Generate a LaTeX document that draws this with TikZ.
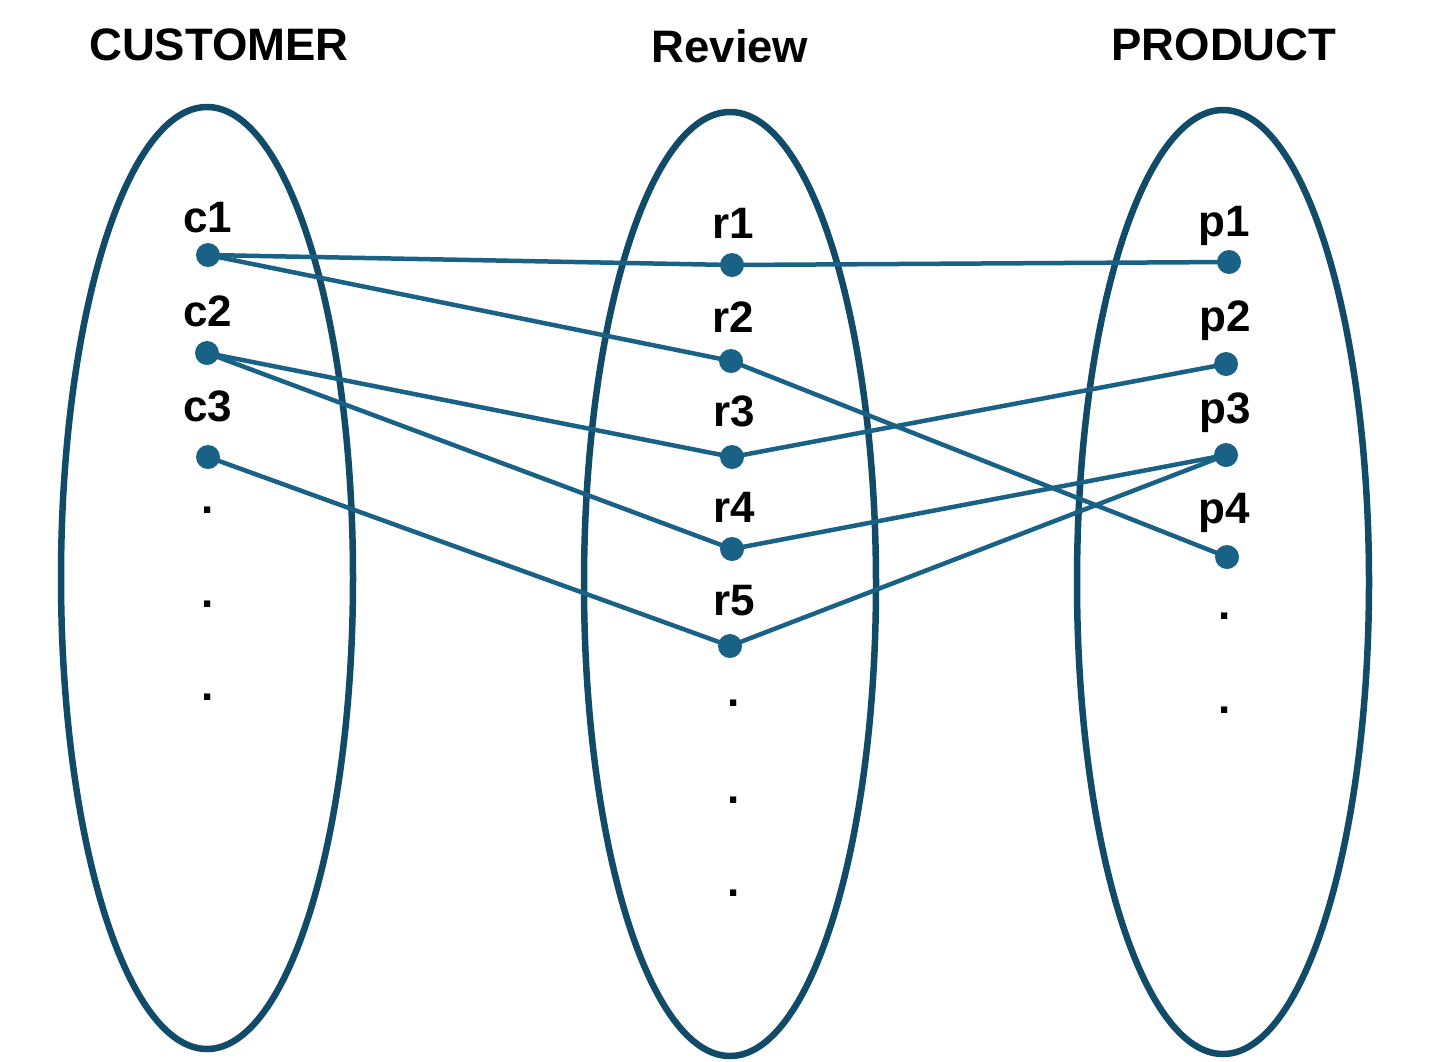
\documentclass[tikz,border=0pt]{standalone}
\usepackage{fontspec}
\setmainfont{Liberation Sans}
\definecolor{ellc}{HTML}{114B67}
\definecolor{linc}{HTML}{1A6186}
\tikzset{
  setell/.style={draw=ellc, line width=6.5pt},
  conn/.style={draw=linc, line width=4.5pt},
  pt/.style={circle, fill=linc, inner sep=0pt, minimum size=24pt},
  lbl/.style={font=\fontsize{44}{50}\selectfont\bfseries, anchor=base, inner sep=0pt},
  ttl/.style={font=\fontsize{45.5}{52}\selectfont\bfseries, anchor=base, inner sep=0pt},
}
\begin{document}
\begin{tikzpicture}[x=1pt,y=-1pt]
\useasboundingbox (0,0) rectangle (1443,1061);
% sets
\draw[setell] (207,578) ellipse [x radius=146, y radius=471];
\draw[setell] (730,584) ellipse [x radius=146, y radius=472];
\draw[setell] (1223,582) ellipse [x radius=146, y radius=472];
% titles
\node[ttl] (tc) at (219,60) {CUSTOMER};
\node[ttl] (tr) at (730,62) {Review};
\node[ttl] (tp) at (1224,60) {PRODUCT};
% labels
\node[lbl] (c1l) at (208,232) {c1};
\node[lbl] (c2l) at (208,326) {c2};
\node[lbl] (c3l) at (208,421) {c3};
\node[lbl] (r1l) at (733,238) {r1};
\node[lbl] (r2l) at (733,332) {r2};
\node[lbl] (r3l) at (734,426) {r3};
\node[lbl] (r4l) at (734,522) {r4};
\node[lbl] (r5l) at (734,615) {r5};
\node[lbl] (p1l) at (1224,236) {p1};
\node[lbl] (p2l) at (1225,331) {p2};
\node[lbl] (p3l) at (1225,423) {p3};
\node[lbl] (p4l) at (1224,523) {p4};
% ellipsis dots
\node[lbl] (cd1) at (208,513) {.};
\node[lbl] (cd2) at (208,607) {.};
\node[lbl] (cd3) at (208,700) {.};
\node[lbl] (rd1) at (734,706) {.};
\node[lbl] (rd2) at (734,803) {.};
\node[lbl] (rd3) at (734,896) {.};
\node[lbl] (pd1) at (1225,619) {.};
\node[lbl] (pd2) at (1225,713) {.};
% points
\node[pt] (c1) at (208,255) {};
\node[pt] (c2) at (207,353) {};
\node[pt] (c3) at (208,457) {};
\node[pt] (r1) at (732,265) {};
\node[pt] (r2) at (731,361) {};
\node[pt] (r3) at (732,457) {};
\node[pt] (r4) at (732,549) {};
\node[pt] (r5) at (730,646) {};
\node[pt] (p1) at (1229,262) {};
\node[pt] (p2) at (1226,364) {};
\node[pt] (p3) at (1226,455) {};
\node[pt] (p4) at (1227,557) {};
% connectors
\draw[conn] (c1.center) -- (r1.center);
\draw[conn] (r1.center) -- (p1.center);
\draw[conn] (c1.center) -- (r2.center);
\draw[conn] (r2.center) -- (p4.center);
\draw[conn] (c2.center) -- (r3.center);
\draw[conn] (r3.center) -- (p2.center);
\draw[conn] (c2.center) -- (r4.center);
\draw[conn] (r4.center) -- (p3.center);
\draw[conn] (c3.center) -- (r5.center);
\draw[conn] (r5.center) -- (p3.center);
\end{tikzpicture}
\end{document}
